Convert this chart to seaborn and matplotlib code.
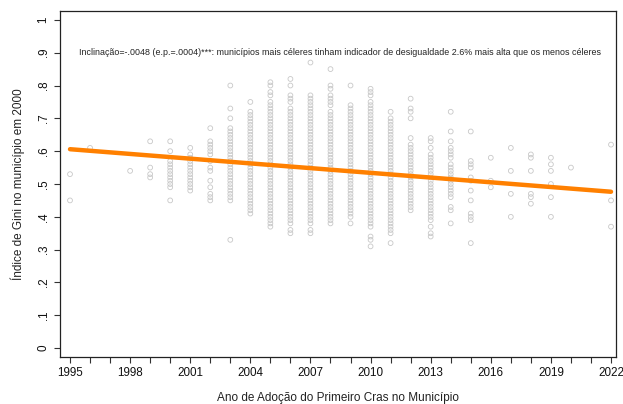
import matplotlib
matplotlib.use("Agg")
import matplotlib.pyplot as plt
import seaborn as sns
import pandas as pd

# Ano de adoção do primeiro CRAS e Gini de 2000 (em centésimos) dos municípios
anos = [1995, 1996, 1998, 1999, 2000, 2001, 2002, 2003, 2004, 2005, 2006, 2007,
        2008, 2009, 2010, 2011, 2012, 2013, 2014, 2015, 2016, 2017, 2018, 2019,
        2020, 2022]
gini_centesimos = [
    "53 45",
    "61",
    "54",
    "63 55 53 52",
    "63 60 57 56 55 54 53 52 51 50 49 45",
    "61 59 58 57 56 55 54 53 52 51 50 49 48",
    "67 63 62 61 60 59 57 55 54 51 49 47 46 45",
    "80 73 70 67 66 65 64 63 62 61 60 59 58 57 56 55 54 53 52 51 50 49 48 47 46 45 33",
    "75 72 71 70 69 68 67 66 65 64 63 62 61 60 59 58 57 56 55 54 53 52 51 50 49 48 47 46 45 44 43 42 41",
    "81 80 78 77 75 74 73 72 71 70 69 68 67 66 65 64 63 62 61 60 59 58 57 56 55 54 53 52 51 50 49 48 47 46 45 44 43 42 41 40 39 38 37",
    "82 80 77 76 75 73 72 71 70 69 68 67 66 65 64 63 62 61 60 59 58 57 56 55 54 53 52 51 50 49 48 47 46 45 44 43 42 41 40 39 38 36 35",
    "87 77 76 75 74 73 72 71 70 69 68 67 66 65 64 63 62 61 60 59 58 57 56 55 54 53 52 51 50 49 48 47 46 45 44 43 42 41 40 39 38 36 35",
    "85 80 79 77 76 75 74 72 71 70 69 68 67 66 65 64 63 62 61 60 59 58 57 56 55 54 53 52 51 50 49 48 47 46 45 44 43 42 41 40 39 38",
    "80 74 73 72 71 70 69 68 67 66 65 64 63 62 61 60 59 58 57 56 55 54 53 52 51 50 49 48 47 46 45 44 43 42 41 40 38",
    "79 78 77 75 74 73 72 71 70 69 68 67 66 65 64 63 62 61 60 59 58 57 56 55 54 53 52 51 50 49 48 47 46 45 44 43 42 41 40 39 38 37 34 33 31",
    "72 70 69 68 67 66 65 64 63 62 61 60 59 58 57 56 55 54 53 52 51 50 49 48 47 46 45 44 43 42 41 40 39 38 37 36 35 32",
    "76 73 72 70 64 62 61 60 59 58 57 56 55 54 53 52 51 50 49 48 47 46 45 44 43 42",
    "64 63 61 59 58 57 56 55 54 53 52 51 50 49 48 47 46 45 44 43 42 41 40 39 37 35 34",
    "72 66 63 61 60 59 58 56 55 54 53 52 51 50 49 48 47 46 43 42 38",
    "66 57 56 55 52 51 48 45 41 40 39 32",
    "58 51 49",
    "61 54 47 40",
    "59 58 54 47 46 44",
    "58 56 54 50 46 40",
    "55",
    "62 45 37",
]

# Reta de regressão: valor ajustado em 1995 e inclinação estimada
ano_inicial, ano_final = 1995, 2022
ajuste_1995 = 0.606
inclinacao = -0.0048

x_ticks = [1995, 1998, 2001, 2004, 2007, 2010, 2013, 2016, 2019, 2022]
y_ticks = [0, 0.1, 0.2, 0.3, 0.4, 0.5, 0.6, 0.7, 0.8, 0.9, 1.0]
y_ticklabels = ["0", ".1", ".2", ".3", ".4", ".5", ".6", ".7", ".8", ".9", "1"]

nota = ("Inclinação=-.0048 (e.p.=.0004)***: municípios mais céleres tinham "
        "indicador de desigualdade 2.6% mais alta que os menos céleres")

linhas = []
for ano, valores in zip(anos, gini_centesimos):
    for v in valores.split():
        linhas.append({"ano": ano, "gini": int(v) / 100})
df = pd.DataFrame(linhas)

reta = pd.DataFrame({
    "ano": [ano_inicial, ano_final],
    "gini": [ajuste_1995, ajuste_1995 + inclinacao * (ano_final - ano_inicial)],
})

sns.set_theme(style="white")
plt.rcParams["font.family"] = ["Liberation Sans", "DejaVu Sans"]

fig = plt.figure(figsize=(6.23, 4.04), dpi=100)
ax = fig.add_axes([0.0963, 0.1163, 0.8925, 0.8565])

sns.scatterplot(data=df, x="ano", y="gini", marker="o", s=12,
                color="#c8c8c8", linewidth=0.6, ax=ax, zorder=2)
for coll in ax.collections:
    coll.set_facecolor("none")
    coll.set_edgecolor("#c8c8c8")

sns.lineplot(data=reta, x="ano", y="gini", color="#ff8000", linewidth=3.2,
             ax=ax, zorder=3)

ax.set_xlim(1994.5, 2022.25)
ax.set_ylim(-0.027, 1.027)
ax.set_xticks(x_ticks)
ax.set_xticks(list(range(1995, 2023)), minor=True)
ax.set_yticks(y_ticks)
ax.set_yticklabels(y_ticklabels, rotation=90, va="center")
ax.tick_params(axis="both", which="major", direction="out", length=4.5,
               width=0.8, color="#333333", labelsize=8.4, labelcolor="#111111",
               pad=3, bottom=True, left=True)
ax.tick_params(axis="x", which="minor", direction="out", length=4.5,
               width=0.8, color="#333333", bottom=True)

for side in ["left", "right", "top", "bottom"]:
    ax.spines[side].set_visible(True)
    ax.spines[side].set_color("#222222")
    ax.spines[side].set_linewidth(0.9)

ax.set_xlabel("Ano de Adoção do Primeiro Cras no Município", fontsize=8.5,
              color="#222222", labelpad=9)
ax.set_ylabel("Índice de Gini no município em 2000", fontsize=8.5,
              color="#222222", labelpad=9)

ax.text(1995.45, 0.9, nota, fontsize=6.4, color="#222222", ha="left",
        va="center")

fig.savefig("out.png", dpi=100, facecolor="white")
